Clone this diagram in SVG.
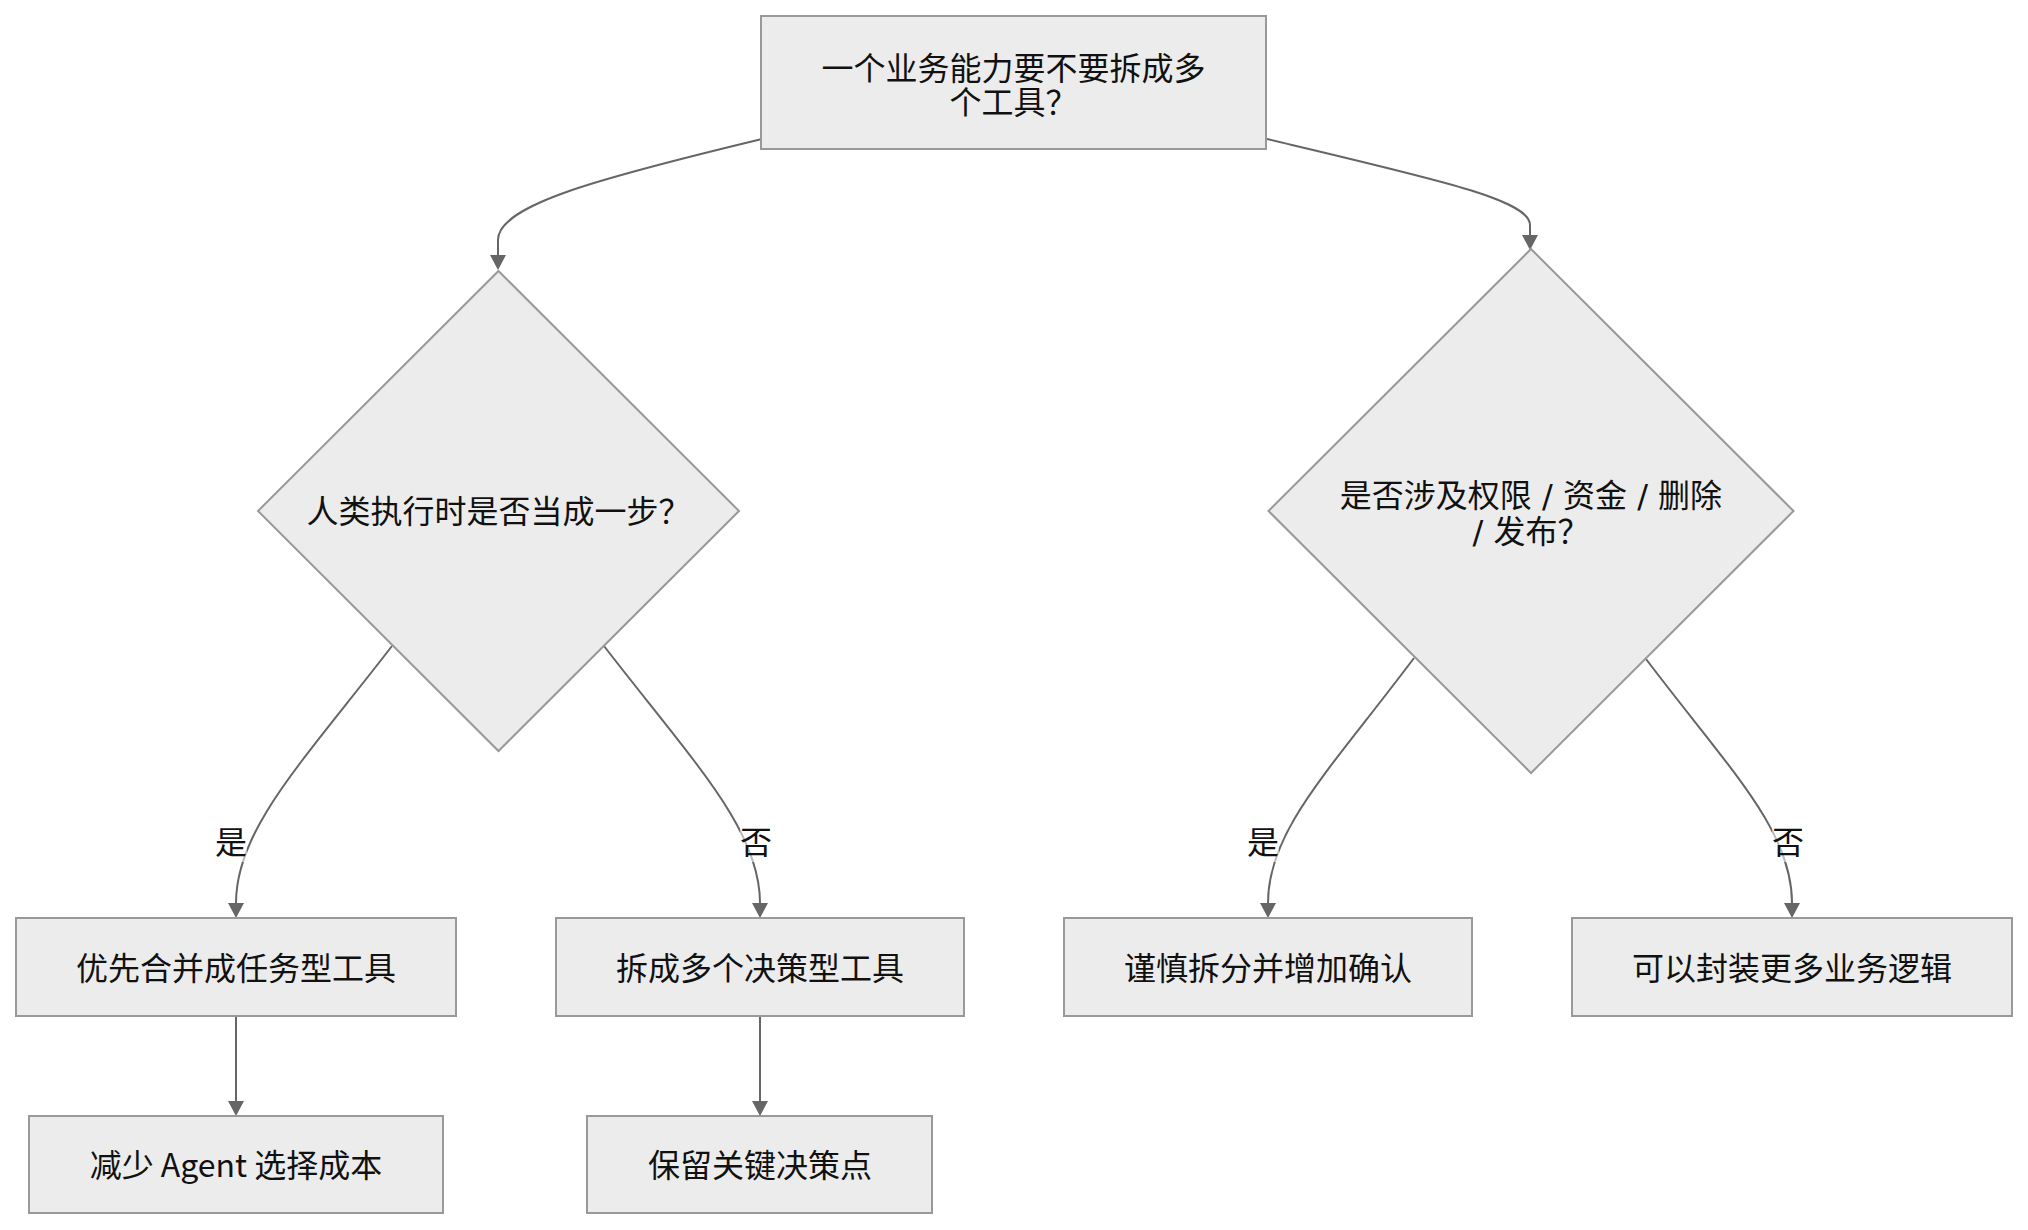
<svg xmlns="http://www.w3.org/2000/svg" width="2028" height="1230" viewBox="0 0 2028 1230">
<defs>
<style>
.node rect,.node polygon{fill:#ececec;stroke:#999;stroke-width:2}
.t{font-family:"DejaVu Sans","Noto Sans CJK SC",sans-serif;font-size:32px;fill:#111;text-anchor:middle}
.cjk{font-family:"Noto Sans CJK SC",sans-serif}
.edge{fill:none;stroke:#666;stroke-width:2;marker-end:url(#arr)}
.lbg{fill:#fff;fill-opacity:0.55}
</style>
<marker id="arr" markerUnits="userSpaceOnUse" markerWidth="16" markerHeight="17" refX="0" refY="8" orient="auto">
<path d="M0,0 L15,8 L0,16 z" fill="#666"/>
</marker>
</defs>
<rect width="2028" height="1230" fill="#fff"/>
<g id="connectors">
<path class="edge" d="M762,139 C600,178 498,205 498,240 L498,255"/>
<path class="edge" d="M1267,139 C1440,180 1530,200 1530,225 L1530,235"/>
<path class="edge" d="M392,646 C300,765 236,830 236,903"/>
<path class="edge" d="M604,646 C696,765 760,830 760,903"/>
<path class="edge" d="M1414,658 C1330,770 1268,830 1268,903"/>
<path class="edge" d="M1646,659 C1730,770 1792,830 1792,903"/>
<path class="edge" d="M236,1016 L236,1101"/>
<path class="edge" d="M760,1016 L760,1101"/>
<g id="edge-labels">
<rect class="lbg" x="215" y="825" width="32" height="37"/>
<text class="t" x="231" y="854">是</text>
<rect class="lbg" x="740" y="825" width="32" height="37"/>
<text class="t" x="756" y="854">否</text>
<rect class="lbg" x="1247" y="825" width="32" height="37"/>
<text class="t" x="1263" y="854">是</text>
<rect class="lbg" x="1772" y="825" width="32" height="37"/>
<text class="t" x="1788" y="854">否</text>
</g>
</g>
<g id="n-root" class="node">
<rect x="761" y="16" width="505" height="133"/>
<text class="t" x="1013.5" y="80">一个业务能力要不要拆成多</text>
<text class="t" x="1013.5" y="114">个工具？</text>
</g>
<g id="n-q1" class="node">
<polygon points="498.5,271 739,511 498.5,751 258,511"/>
<text class="t" x="498.5" y="523">人类执行时是否当成一步？</text>
</g>
<g id="n-q2" class="node">
<polygon points="1531,249 1793.5,511 1531,773 1268.5,511"/>
<text class="t" x="1531" y="507">是否涉及权限 / 资金 / 删除</text>
<text class="t" x="1531" y="543">/ 发布？</text>
</g>
<g id="n-a" class="node">
<rect x="16" y="918" width="440" height="98"/>
<text class="t" x="236" y="980">优先合并成任务型工具</text>
</g>
<g id="n-b" class="node">
<rect x="556" y="918" width="408" height="98"/>
<text class="t" x="760" y="980">拆成多个决策型工具</text>
</g>
<g id="n-c" class="node">
<rect x="1064" y="918" width="408" height="98"/>
<text class="t" x="1268" y="980">谨慎拆分并增加确认</text>
</g>
<g id="n-d" class="node">
<rect x="1572" y="918" width="440" height="98"/>
<text class="t" x="1792" y="980">可以封装更多业务逻辑</text>
</g>
<g id="n-e" class="node">
<rect x="29" y="1116" width="414" height="97"/>
<text class="t" x="236" y="1177">减少<tspan class="cjk" xml:space="preserve"> Agent </tspan>选择成本</text>
</g>
<g id="n-f" class="node">
<rect x="587" y="1116" width="345" height="97"/>
<text class="t" x="760" y="1177">保留关键决策点</text>
</g>
</svg>
